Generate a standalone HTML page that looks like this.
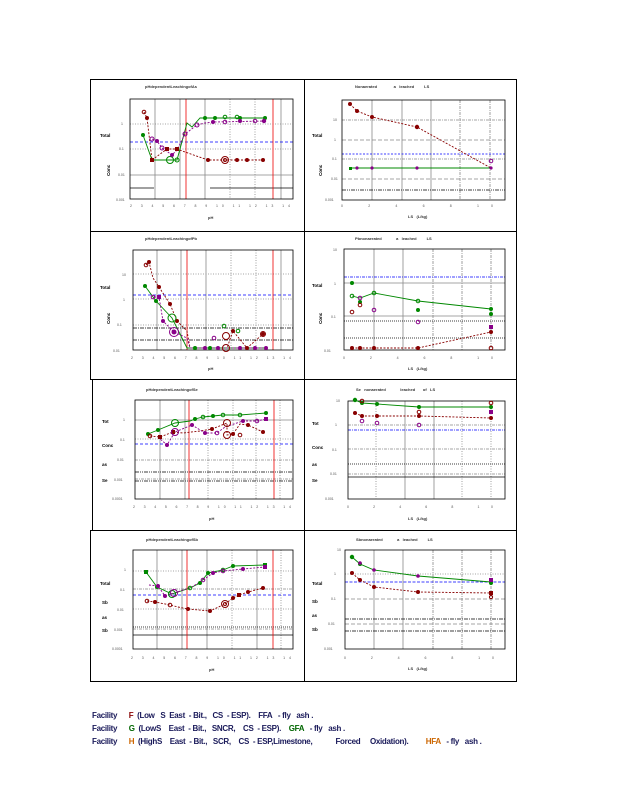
<!DOCTYPE html>
<html><head><meta charset="utf-8"><style>
body{margin:0;background:#fff;width:618px;height:800px;overflow:hidden}
svg{position:absolute;left:0;top:0}
text{font-family:"Liberation Sans",sans-serif}
.t{font-size:4px;font-weight:bold;fill:#333}
.k{font-size:3.5px;fill:#555}
.yl{font-size:4.5px;font-weight:bold;fill:#000}
.lg{font-family:"Liberation Sans",sans-serif;font-size:8px;font-weight:bold;position:absolute;left:92px;white-space:pre;color:#1a1a5a;letter-spacing:-0.3px}
</style></head><body>
<svg width="618" height="800" viewBox="0 0 618 800">
<g fill="none" stroke="#000" stroke-width="1">
<rect x="90.5" y="79.5" width="214" height="152"/>
<rect x="304.5" y="79.5" width="212" height="152"/>
<rect x="90.5" y="231.5" width="214" height="148"/>
<rect x="304.5" y="231.5" width="212" height="148"/>
<rect x="92.5" y="379.5" width="212" height="151"/>
<rect x="304.5" y="379.5" width="212" height="151"/>
<rect x="90.5" y="530.5" width="214" height="151"/>
<rect x="304.5" y="530.5" width="212" height="151"/>
</g>

<!-- P1L -->
<g stroke-width="0.8">
<g stroke="#888"><line x1="155" y1="99" x2="155" y2="199"/><line x1="180" y1="99" x2="180" y2="199"/><line x1="205" y1="99" x2="205" y2="199"/><line x1="281" y1="99" x2="281" y2="199"/><line x1="130" y1="175" x2="293" y2="175"/></g>
<g stroke="#888" stroke-dasharray="1,1.5"><line x1="230" y1="99" x2="230" y2="199"/><line x1="255" y1="99" x2="255" y2="199"/><line x1="130" y1="124" x2="293" y2="124"/><line x1="130" y1="149" x2="293" y2="149"/></g>
<line x1="130" y1="142" x2="293" y2="142" stroke="#00f" stroke-dasharray="3,2"/>
<line x1="130" y1="188" x2="154" y2="188" stroke="#000"/><line x1="210" y1="188" x2="293" y2="188" stroke="#000"/>
<line x1="186" y1="99" x2="186" y2="199" stroke="#e00"/><line x1="273" y1="99" x2="273" y2="199" stroke="#e00"/>
<rect x="130" y="99" width="163" height="100" fill="none" stroke="#000"/>
</g>
<polyline fill="none" stroke="#800" stroke-dasharray="2,1.5" stroke-width="0.9" points="144,112 147,118 152,160 167,149 177,149 185,152 208,160 225,160 237,160 247,160 263,160"/>
<polyline fill="none" stroke="#080" stroke-width="0.9" points="143,135 152,160 170,160 177,160 187,123 192,127 200,118 205,118 230,118 265,118"/>
<polyline fill="none" stroke="#808" stroke-dasharray="2,1.5" stroke-width="0.9" points="152,139 157,141 162,148 172,155 177,150 185,134 197,125 205,123 213,122 266,121"/>
<g fill="#800"><circle cx="147" cy="118" r="2"/><rect x="150" y="158" width="4" height="4"/><rect x="165" y="147" width="4" height="4"/><rect x="175" y="147" width="4" height="4"/><circle cx="208" cy="160" r="2"/><circle cx="237" cy="160" r="2"/><circle cx="247" cy="160" r="2"/><circle cx="263" cy="160" r="2"/></g>
<g fill="none" stroke="#800"><circle cx="144" cy="112" r="1.8"/><circle cx="225" cy="160" r="3.5"/><circle cx="225" cy="160" r="1.5"/></g>
<g fill="#080"><circle cx="143" cy="135" r="2"/><circle cx="205" cy="118" r="2"/><circle cx="215" cy="118" r="2"/><circle cx="240" cy="118" r="2"/><circle cx="265" cy="118" r="2"/></g>
<g fill="none" stroke="#080"><circle cx="170" cy="160" r="3.5"/><circle cx="177" cy="160" r="2"/><circle cx="225" cy="117" r="1.8"/><circle cx="237" cy="117" r="1.8"/></g>
<g fill="#808"><circle cx="157" cy="141" r="2"/><circle cx="172" cy="155" r="2"/><circle cx="213" cy="122" r="2"/><circle cx="240" cy="121" r="2"/><circle cx="264" cy="121" r="2.2"/></g>
<g fill="none" stroke="#808"><circle cx="152" cy="139" r="2"/><circle cx="162" cy="148" r="2"/><circle cx="185" cy="134" r="2"/><circle cx="197" cy="125" r="2"/><circle cx="225" cy="122" r="1.8"/><circle cx="255" cy="121" r="1.8"/></g>
<text class="t" x="145" y="88">pHdependentLeachingofAs</text>
<text class="yl" x="100" y="137">Total</text><text class="yl" x="100" y="178" transform="rotate(-90 104 172)">Conc</text>
<text class="k" x="121" y="125">1</text><text class="k" x="119" y="150">0.1</text><text class="k" x="118" y="176">0.01</text><text class="k" x="116" y="201">0.001</text>
<text class="k" x="130" y="207" textLength="160" lengthAdjust="spacing">2 3 4 5 6 7 8 9 10 11 12 13 14</text>
<text class="t" x="208" y="219">pH</text>

<!-- P1R -->
<g stroke-width="0.8">
<g stroke="#888"><line x1="372" y1="100" x2="372" y2="200"/><line x1="402" y1="100" x2="402" y2="200"/><line x1="431" y1="100" x2="431" y2="200"/></g>
<g stroke="#888" stroke-dasharray="3,1,1,1"><line x1="460" y1="100" x2="460" y2="200"/><line x1="490" y1="100" x2="490" y2="200"/><line x1="342" y1="120" x2="505" y2="120"/><line x1="342" y1="159" x2="505" y2="159"/></g>
<g stroke="#888" stroke-dasharray="4,2"><line x1="342" y1="140" x2="505" y2="140"/><line x1="342" y1="179" x2="505" y2="179"/></g>
<line x1="342" y1="154" x2="505" y2="154" stroke="#00f" stroke-dasharray="2,1.5"/>
<line x1="342" y1="190" x2="505" y2="190" stroke="#000" stroke-dasharray="4,1,1,1,1,1"/>
<rect x="342" y="100" width="163" height="100" fill="none" stroke="#000"/>
</g>
<polyline fill="none" stroke="#800" stroke-dasharray="2,1.5" stroke-width="0.9" points="350,104 357,111 372,117 417,127 491,168"/>
<line x1="350" y1="168" x2="491" y2="168" stroke="#080" stroke-width="1"/>
<g fill="#800"><circle cx="350" cy="104" r="2"/><circle cx="357" cy="111" r="2"/><circle cx="372" cy="117" r="2"/><circle cx="417" cy="127" r="2.2"/></g>
<g fill="#808"><circle cx="357" cy="168" r="1.6"/><circle cx="372" cy="168" r="1.6"/><circle cx="417" cy="168" r="1.6"/><circle cx="491" cy="168" r="1.6"/></g>
<rect x="349" y="167" width="3" height="3" fill="#080"/>
<circle cx="491" cy="161" r="1.8" fill="none" stroke="#808"/>
<text class="t" x="355" y="88">Nonaerated &#160; &#160; &#160; &#160; &#160; &#160; &#160; a &#160; leached &#160; &#160; &#160; &#160; LS</text>
<text class="yl" x="312" y="137">Total</text><text class="yl" x="312" y="178" transform="rotate(-90 316 172)">Conc</text>
<text class="k" x="333" y="121">10</text><text class="k" x="334" y="141">1</text><text class="k" x="332" y="160">0.1</text><text class="k" x="331" y="180">0.01</text><text class="k" x="325" y="201">0.001</text>
<text class="k" x="341" y="207" textLength="152" lengthAdjust="spacing">0 2 4 6 8 10</text>
<text class="t" x="408" y="218">LS &#160; (L/kg)</text>

<!-- P2L -->
<g stroke-width="0.8">
<g stroke="#888"><line x1="157" y1="250" x2="157" y2="350"/><line x1="181" y1="250" x2="181" y2="350"/><line x1="206" y1="250" x2="206" y2="350"/><line x1="281" y1="250" x2="281" y2="350"/></g>
<g stroke="#888" stroke-dasharray="1,1.5"><line x1="231" y1="250" x2="231" y2="350"/><line x1="256" y1="250" x2="256" y2="350"/><line x1="133" y1="274" x2="293" y2="274"/><line x1="133" y1="299" x2="293" y2="299"/><line x1="133" y1="325" x2="293" y2="325"/></g>
<line x1="133" y1="295" x2="293" y2="295" stroke="#00f" stroke-dasharray="3,2"/>
<g stroke="#000" stroke-dasharray="4,1,1,1"><line x1="133" y1="328" x2="293" y2="328"/><line x1="133" y1="340" x2="293" y2="340"/></g>
<line x1="187" y1="250" x2="187" y2="350" stroke="#e00"/><line x1="273" y1="250" x2="273" y2="350" stroke="#e00"/>
<rect x="133" y="250" width="160" height="100" fill="none" stroke="#000"/>
</g>
<polyline fill="none" stroke="#800" stroke-dasharray="2,1.5" stroke-width="0.9" points="146,265 149,262 153,278 159,287 170,304 177,321 187,331 190,348 227,348 233,331 247,348 263,334"/>
<polyline fill="none" stroke="#080" stroke-width="0.9" points="145,286 156,301 172,318 187,348 265,348"/>
<polyline fill="none" stroke="#808" stroke-dasharray="2,1.5" stroke-width="0.9" points="154,297 159,297 163,321 174,332 187,338 190,348 267,348"/>
<g fill="#800"><circle cx="149" cy="262" r="2"/><circle cx="159" cy="287" r="2"/><circle cx="170" cy="304" r="2"/><circle cx="233" cy="331" r="2"/><circle cx="247" cy="348" r="2"/><circle cx="263" cy="334" r="2"/><circle cx="177" cy="321" r="2"/></g>
<g fill="none" stroke="#800"><circle cx="146" cy="265" r="1.8"/><circle cx="226" cy="336" r="3.5"/><circle cx="226" cy="348" r="3.5"/><circle cx="263" cy="334" r="2.5"/></g>
<g fill="#080"><circle cx="145" cy="286" r="2"/><circle cx="156" cy="301" r="2"/><circle cx="195" cy="348" r="2"/><circle cx="210" cy="348" r="2"/></g>
<g fill="none" stroke="#080"><circle cx="172" cy="318" r="4"/><circle cx="224" cy="326" r="1.8"/><circle cx="238" cy="331" r="1.8"/></g>
<g fill="#808"><rect x="157" y="295" width="4" height="4"/><circle cx="163" cy="321" r="2"/><circle cx="174" cy="332" r="2.5"/><circle cx="205" cy="348" r="2"/><circle cx="218" cy="348" r="2"/><circle cx="240" cy="348" r="2"/><circle cx="255" cy="348" r="2"/><circle cx="266" cy="348" r="2"/></g>
<g fill="none" stroke="#808"><circle cx="174" cy="332" r="4.5"/><circle cx="153" cy="297" r="1.8"/><circle cx="214" cy="338" r="1.8"/></g>
<text class="t" x="145" y="240">pHdependentLeachingofPb</text>
<text class="yl" x="100" y="289">Total</text><text class="yl" x="100" y="326" transform="rotate(-90 104 320)">Conc</text>
<text class="k" x="122" y="276">10</text><text class="k" x="123" y="301">1</text><text class="k" x="117" y="326">0.1</text><text class="k" x="113" y="352">0.01</text>
<text class="k" x="131" y="359" textLength="160" lengthAdjust="spacing">2 3 4 5 6 7 8 9 10 11 12 13 14</text>
<text class="t" x="208" y="370">pH</text>

<!-- P2R -->
<g stroke-width="0.8">
<g stroke="#888"><line x1="374" y1="249" x2="374" y2="350"/><line x1="403" y1="249" x2="403" y2="350"/><line x1="344" y1="283" x2="505" y2="283"/><line x1="344" y1="316" x2="505" y2="316"/></g>
<g stroke="#888" stroke-dasharray="3,1,1,1"><line x1="433" y1="249" x2="433" y2="350"/><line x1="462" y1="249" x2="462" y2="350"/><line x1="491" y1="249" x2="491" y2="350"/></g>
<line x1="344" y1="277" x2="505" y2="277" stroke="#00f" stroke-dasharray="3,1,1,1"/>
<g stroke="#000" stroke-dasharray="1,1"><line x1="344" y1="321" x2="505" y2="321"/><line x1="344" y1="338" x2="505" y2="338"/></g>
<rect x="344" y="249" width="161" height="101" fill="none" stroke="#000"/>
</g>
<polyline fill="none" stroke="#080" stroke-width="0.9" points="352,296 360,298 374,293 418,301 491,309"/>
<polyline fill="none" stroke="#800" stroke-dasharray="2,1.5" stroke-width="0.9" points="352,348 360,348 374,348 418,348 491,332"/>
<g fill="#080"><circle cx="352" cy="283" r="2"/><circle cx="360" cy="302" r="2"/><circle cx="418" cy="310" r="2"/><circle cx="491" cy="309" r="2"/><circle cx="491" cy="314" r="2"/></g>
<g fill="none" stroke="#080"><circle cx="352" cy="296" r="1.8"/><circle cx="374" cy="293" r="1.8"/><circle cx="418" cy="301" r="1.8"/></g>
<g fill="#800"><circle cx="352" cy="348" r="2"/><circle cx="360" cy="348" r="2"/><circle cx="374" cy="348" r="2"/><circle cx="418" cy="348" r="2"/><circle cx="491" cy="332" r="2"/></g>
<rect x="489" y="325" width="4" height="4" fill="#808"/>
<g fill="none"><circle cx="352" cy="312" r="1.8" stroke="#800"/><circle cx="360" cy="305" r="1.8" stroke="#800"/><circle cx="360" cy="298" r="1.8" stroke="#808"/><circle cx="374" cy="310" r="1.8" stroke="#808"/><circle cx="418" cy="322" r="1.8" stroke="#808"/><circle cx="491" cy="348" r="1.8" stroke="#800"/></g>
<text class="t" x="355" y="240">Pbnonaerated &#160; &#160; &#160; &#160; &#160; &#160; a &#160; leached &#160; &#160; &#160; &#160; LS</text>
<text class="yl" x="312" y="287">Total</text><text class="yl" x="312" y="326" transform="rotate(-90 316 320)">Conc</text>
<text class="k" x="333" y="251">10</text><text class="k" x="334" y="285">1</text><text class="k" x="331" y="318">0.1</text><text class="k" x="324" y="352">0.01</text>
<text class="k" x="343" y="359" textLength="150" lengthAdjust="spacing">0 2 4 6 8 10</text>
<text class="t" x="408" y="370">LS &#160; (L/kg)</text>

<!-- P3L -->
<g stroke-width="0.8">
<g stroke="#888"><line x1="160" y1="400" x2="160" y2="499"/><line x1="185" y1="400" x2="185" y2="499"/><line x1="135" y1="420" x2="293" y2="420"/></g>
<g stroke="#888" stroke-dasharray="1,1.5"><line x1="208" y1="400" x2="208" y2="499"/><line x1="233" y1="400" x2="233" y2="499"/><line x1="256" y1="400" x2="256" y2="499"/><line x1="280" y1="400" x2="280" y2="499"/><line x1="135" y1="439" x2="293" y2="439"/></g>
<g stroke="#888" stroke-dasharray="3,1,1,1"><line x1="135" y1="460" x2="293" y2="460"/><line x1="135" y1="479" x2="293" y2="479"/></g>
<line x1="135" y1="444" x2="293" y2="444" stroke="#00f" stroke-dasharray="3,2"/>
<g stroke="#000" stroke-dasharray="4,1,1,1,1,1"><line x1="135" y1="472" x2="293" y2="472"/><line x1="135" y1="481" x2="293" y2="481"/></g>
<line x1="189" y1="400" x2="189" y2="499" stroke="#e00"/><line x1="274" y1="400" x2="274" y2="499" stroke="#e00"/>
<rect x="135" y="400" width="158" height="99" fill="none" stroke="#000"/>
</g>
<polyline fill="none" stroke="#080" stroke-width="0.9" points="148,434 158,430 175,423 190,421 195,419 203,417 213,416 223,415 240,415 266,413"/>
<polyline fill="none" stroke="#800" stroke-dasharray="2,1.5" stroke-width="0.9" points="150,436 160,437 173,432 183,433 200,431 212,429 227,423 227,435 233,434 240,424 248,425 263,432"/>
<polyline fill="none" stroke="#808" stroke-dasharray="2,1.5" stroke-width="0.9" points="158,437 167,445 175,432 192,425 205,433 217,433 225,427 243,421 257,421 266,419"/>
<g fill="#080"><circle cx="148" cy="434" r="2"/><circle cx="158" cy="430" r="2"/><circle cx="195" cy="419" r="2"/><circle cx="213" cy="416" r="2"/><circle cx="266" cy="413" r="2"/></g>
<g fill="none" stroke="#080"><circle cx="175" cy="423" r="3.5"/><circle cx="203" cy="417" r="1.8"/><circle cx="223" cy="415" r="1.8"/><circle cx="240" cy="415" r="1.8"/></g>
<g fill="#800"><rect x="158" y="435" width="4" height="4"/><rect x="171" y="430" width="4" height="4"/><circle cx="212" cy="429" r="2"/><circle cx="233" cy="434" r="2"/><circle cx="248" cy="425" r="2"/><circle cx="263" cy="432" r="2"/></g>
<g fill="none" stroke="#800"><circle cx="227" cy="423" r="3.5"/><circle cx="227" cy="435" r="3.5"/><circle cx="240" cy="435" r="1.8"/><circle cx="150" cy="436" r="1.8"/></g>
<g fill="#808"><circle cx="167" cy="445" r="2"/><circle cx="192" cy="425" r="2"/><circle cx="205" cy="433" r="2"/><circle cx="243" cy="421" r="2"/><rect x="264" y="417" width="4" height="4"/></g>
<g fill="none" stroke="#808"><circle cx="175" cy="432" r="3.5"/><circle cx="217" cy="433" r="1.8"/><circle cx="257" cy="421" r="1.8"/></g>
<text class="t" x="146" y="391">pHdependentLeachingofSe</text>
<text class="yl" x="102" y="423">Tot</text><text class="yl" x="102" y="447">Conc</text><text class="yl" x="102" y="466">as</text><text class="yl" x="102" y="482">Se</text>
<text class="k" x="123" y="421">1</text><text class="k" x="120" y="441">0.1</text><text class="k" x="117" y="461">0.01</text><text class="k" x="114" y="481">0.001</text><text class="k" x="112" y="500">0.0001</text>
<text class="k" x="133" y="508" textLength="158" lengthAdjust="spacing">2 3 4 5 6 7 8 9 10 11 12 13 14</text>
<text class="t" x="209" y="520">pH</text>

<!-- P3R -->
<g stroke-width="0.8">
<g stroke="#888"><line x1="405" y1="401" x2="405" y2="499"/><line x1="434" y1="401" x2="434" y2="499"/></g>
<g stroke="#888" stroke-dasharray="1,1.5"><line x1="376" y1="401" x2="376" y2="499"/><line x1="462" y1="401" x2="462" y2="499"/><line x1="491" y1="401" x2="491" y2="499"/></g>
<g stroke="#888" stroke-dasharray="3,1,1,1"><line x1="348" y1="425" x2="505" y2="425"/><line x1="348" y1="449" x2="505" y2="449"/><line x1="348" y1="474" x2="505" y2="474"/></g>
<line x1="348" y1="430" x2="505" y2="430" stroke="#00f" stroke-dasharray="3,1,1,1"/>
<line x1="348" y1="464" x2="505" y2="464" stroke="#000" stroke-dasharray="1,1"/>
<line x1="348" y1="477" x2="505" y2="477" stroke="#000"/>
<rect x="348" y="401" width="157" height="98" fill="none" stroke="#000"/>
</g>
<polyline fill="none" stroke="#080" stroke-width="0.9" points="355,400 362,403 377,404 419,407 491,407"/>
<polyline fill="none" stroke="#800" stroke-dasharray="2,1.5" stroke-width="0.9" points="355,413 362,416 377,416 419,416 491,418"/>
<g fill="#080"><circle cx="355" cy="400" r="2.2"/><circle cx="362" cy="403" r="2"/><circle cx="377" cy="404" r="2"/><circle cx="419" cy="407" r="2"/><circle cx="491" cy="407" r="2"/></g>
<g fill="#800"><circle cx="355" cy="413" r="2"/><circle cx="362" cy="416" r="2"/><circle cx="377" cy="416" r="2"/><circle cx="419" cy="416" r="2"/><circle cx="491" cy="418" r="2"/></g>
<rect x="489" y="410" width="4" height="4" fill="#808"/>
<g fill="none"><circle cx="362" cy="421" r="1.8" stroke="#808"/><circle cx="377" cy="423" r="1.8" stroke="#808"/><circle cx="419" cy="425" r="1.8" stroke="#808"/><circle cx="362" cy="401" r="1.8" stroke="#800"/><circle cx="419" cy="412" r="1.8" stroke="#800"/><circle cx="491" cy="403" r="1.8" stroke="#800"/></g>
<text class="t" x="356" y="391">Se &#160; nonaerated &#160; &#160; &#160; &#160; &#160; &#160; leached &#160; &#160; &#160; of &#160; LS</text>
<text class="yl" x="312" y="425">Tot</text><text class="yl" x="312" y="449">Conc</text><text class="yl" x="312" y="466">as</text><text class="yl" x="312" y="482">Se</text>
<text class="k" x="336" y="402">10</text><text class="k" x="335" y="426">1</text><text class="k" x="332" y="451">0.1</text><text class="k" x="330" y="475">0.01</text><text class="k" x="325" y="500">0.001</text>
<text class="k" x="347" y="508" textLength="146" lengthAdjust="spacing">0 2 4 6 8 10</text>
<text class="t" x="408" y="520">LS &#160; (L/kg)</text>

<!-- P4L -->
<g stroke-width="0.8">
<g stroke="#888"><line x1="157" y1="550" x2="157" y2="649"/><line x1="182" y1="550" x2="182" y2="649"/><line x1="207" y1="550" x2="207" y2="649"/><line x1="257" y1="550" x2="257" y2="649"/></g>
<g stroke="#888" stroke-dasharray="1,1.5"><line x1="232" y1="550" x2="232" y2="649"/><line x1="281" y1="550" x2="281" y2="649"/><line x1="133" y1="571" x2="293" y2="571"/><line x1="133" y1="609" x2="293" y2="609"/></g>
<g stroke="#888" stroke-dasharray="3,1,1,1"><line x1="133" y1="589" x2="293" y2="589"/><line x1="133" y1="629" x2="293" y2="629"/></g>
<line x1="133" y1="595" x2="293" y2="595" stroke="#00f" stroke-dasharray="3,2"/>
<line x1="133" y1="627" x2="293" y2="627" stroke="#000" stroke-dasharray="1,1"/>
<line x1="133" y1="635" x2="293" y2="635" stroke="#000"/>
<line x1="187" y1="550" x2="187" y2="649" stroke="#e00"/><line x1="273" y1="550" x2="273" y2="649" stroke="#e00"/>
<rect x="133" y="550" width="160" height="99" fill="none" stroke="#000"/>
</g>
<polyline fill="none" stroke="#080" stroke-width="0.9" points="146,572 157,587 172,594 190,588 200,583 208,573 223,570 233,566 265,565"/>
<polyline fill="none" stroke="#808" stroke-dasharray="2,1.5" stroke-width="0.9" points="149,585 158,586 165,596 174,593 192,587 203,580 213,573 223,571 243,569 265,567"/>
<polyline fill="none" stroke="#800" stroke-dasharray="2,1.5" stroke-width="0.9" points="147,601 155,602 170,605 178,607 188,609 210,611 225,604 233,598 239,595 248,592 263,588"/>
<g fill="#080"><rect x="144" y="570" width="4" height="4"/><circle cx="157" cy="587" r="2"/><circle cx="200" cy="583" r="2"/><circle cx="208" cy="573" r="2"/><circle cx="233" cy="566" r="2"/><rect x="263" y="563" width="4" height="4"/></g>
<g fill="none" stroke="#080"><circle cx="172" cy="594" r="3.5"/><circle cx="190" cy="588" r="1.8"/><circle cx="223" cy="570" r="1.8"/></g>
<g fill="#808"><circle cx="158" cy="586" r="2"/><circle cx="165" cy="596" r="2"/><circle cx="213" cy="573" r="2"/><circle cx="243" cy="569" r="2"/><rect x="263" y="565" width="4" height="4"/></g>
<g fill="none" stroke="#808"><circle cx="174" cy="593" r="3.5"/><circle cx="203" cy="580" r="1.8"/><circle cx="223" cy="571" r="1.8"/></g>
<g fill="#800"><circle cx="155" cy="602" r="2"/><circle cx="188" cy="609" r="2"/><circle cx="210" cy="611" r="2"/><circle cx="233" cy="598" r="2"/><rect x="237" y="593" width="4" height="4"/><circle cx="248" cy="592" r="2"/><circle cx="263" cy="588" r="2"/></g>
<g fill="none" stroke="#800"><circle cx="147" cy="601" r="1.8"/><circle cx="170" cy="605" r="1.8"/><circle cx="225" cy="604" r="3.5"/><circle cx="225" cy="604" r="1.5"/></g>
<text class="t" x="146" y="541">pHdependentLeachingofSb</text>
<text class="yl" x="100" y="585">Total</text><text class="yl" x="102" y="604">Sb</text><text class="yl" x="102" y="619">as</text><text class="yl" x="102" y="632">Sb</text>
<text class="k" x="124" y="571">1</text><text class="k" x="120" y="591">0.1</text><text class="k" x="117" y="611">0.01</text><text class="k" x="114" y="631">0.001</text><text class="k" x="112" y="650">0.0001</text>
<text class="k" x="131" y="659" textLength="160" lengthAdjust="spacing">2 3 4 5 6 7 8 9 10 11 12 13 14</text>
<text class="t" x="209" y="671">pH</text>

<!-- P4R -->
<g stroke-width="0.8">
<g stroke="#888"><line x1="374" y1="550" x2="374" y2="649"/><line x1="403" y1="550" x2="403" y2="649"/></g>
<g stroke="#888" stroke-dasharray="3,1,1,1"><line x1="433" y1="550" x2="433" y2="649"/><line x1="462" y1="550" x2="462" y2="649"/><line x1="491" y1="550" x2="491" y2="649"/></g>
<line x1="345" y1="574" x2="505" y2="574" stroke="#888" stroke-dasharray="1,1.5"/>
<g stroke="#888" stroke-dasharray="4,2"><line x1="345" y1="599" x2="505" y2="599"/><line x1="345" y1="624" x2="505" y2="624"/></g>
<line x1="345" y1="582" x2="505" y2="582" stroke="#00f" stroke-dasharray="3,1.5"/>
<g stroke="#000" stroke-dasharray="4,1,1,1"><line x1="345" y1="619" x2="505" y2="619"/><line x1="345" y1="631" x2="505" y2="631"/></g>
<rect x="345" y="550" width="160" height="99" fill="none" stroke="#000"/>
</g>
<polyline fill="none" stroke="#080" stroke-width="0.9" points="352,557 360,564 374,570 418,576 491,582"/>
<polyline fill="none" stroke="#800" stroke-dasharray="2,1.5" stroke-width="0.9" points="352,573 360,580 374,587 418,592 491,593"/>
<g fill="#080"><circle cx="352" cy="557" r="2.2"/><circle cx="360" cy="564" r="2"/><circle cx="491" cy="583" r="2"/></g>
<g fill="#808"><circle cx="360" cy="563" r="1.8"/><circle cx="374" cy="570" r="1.8"/><circle cx="418" cy="576" r="1.8"/><rect x="489" y="578" width="4" height="4"/></g>
<g fill="#800"><circle cx="352" cy="573" r="2"/><circle cx="360" cy="580" r="2"/><circle cx="374" cy="587" r="2"/><circle cx="418" cy="592" r="2"/><rect x="489" y="591" width="4" height="4"/></g>
<circle cx="491" cy="597" r="1.6" fill="none" stroke="#800"/>
<text class="t" x="356" y="541">Sbnonaerated &#160; &#160; &#160; &#160; &#160; &#160; a &#160; leached &#160; &#160; &#160; &#160; LS</text>
<text class="yl" x="312" y="585">Total</text><text class="yl" x="312" y="603">Sb</text><text class="yl" x="312" y="617">as</text><text class="yl" x="312" y="631">Sb</text>
<text class="k" x="337" y="551">10</text><text class="k" x="334" y="575">1</text><text class="k" x="331" y="600">0.1</text><text class="k" x="328" y="625">0.01</text><text class="k" x="324" y="650">0.001</text>
<text class="k" x="344" y="659" textLength="150" lengthAdjust="spacing">0 2 4 6 8 10</text>
<text class="t" x="408" y="670">LS &#160; (L/kg)</text>
</svg>
<div class="lg" style="top:711px">Facility      <span style="color:#800">F</span>  (Low   S  East  - Bit.,   CS  - ESP).    <span style="color:#1a1a5a">FFA</span>   - fly   ash .</div>
<div class="lg" style="top:724px">Facility      <span style="color:#060">G</span>  (LowS    East  - Bit.,   SNCR,    CS  - ESP).    <span style="color:#060">GFA</span>   - fly   ash .</div>
<div class="lg" style="top:737px">Facility      <span style="color:#c60">H</span>  (HighS    East  - Bit.,   SCR,    CS  - ESP,Limestone,            Forced     Oxidation).         <span style="color:#c60">HFA</span>   - fly   ash .</div>
</body></html>
